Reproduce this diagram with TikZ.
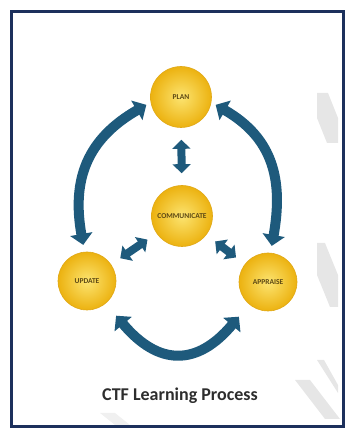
\documentclass[tikz,border=0pt]{standalone}
\usepackage{fontspec}
\setmainfont{Carlito}
\usetikzlibrary{arrows.meta}

\definecolor{cycleblue}{RGB}{30,90,124}
\definecolor{framenavy}{RGB}{28,48,92}
\definecolor{goldlight}{RGB}{252,228,112}
\definecolor{golddark}{RGB}{236,178,16}
\definecolor{goldedge}{RGB}{224,168,24}
\definecolor{labelbrown}{RGB}{92,72,20}
\definecolor{titlegray}{RGB}{45,45,45}
\definecolor{stripegray}{RGB}{230,230,230}

\begin{document}
\begin{tikzpicture}[x=1pt,y=1pt,
        stage/.style={circle,minimum size=61pt,inner sep=0pt,draw=goldedge,line width=0.6pt,
            inner color=goldlight,outer color=golddark,
            font=\fontsize{7.5}{9}\selectfont\bfseries,text=labelbrown},
        cyclearrow/.style={cycleblue,line width=10pt,
            {Triangle[length=11pt,width=22pt]}-{Triangle[length=11pt,width=22pt]}},
        hubarrow/.style={cycleblue,line width=8pt,
            {Triangle[length=9pt,width=18pt]}-{Triangle[length=9pt,width=18pt]}}]
    \useasboundingbox (0,0) rectangle (346,431);

    % pale slanted bands behind the frame's right side
    \fill[stripegray] (317,338) -- (328,338) -- (338,313) -- (338,288) -- (327,288) -- (317,313) -- cycle;
    \fill[stripegray] (317,188) -- (325,188) -- (338,156) -- (338,124) -- (330,124) -- (317,156) -- cycle;
    \fill[stripegray] (317,71) -- (324,71) -- (338,46) -- (338,38) -- cycle;
    \fill[stripegray] (295,51) -- (310,51) -- (340,12) -- (325,12) -- cycle;
    \fill[stripegray!60] (100,18) -- (115,18) -- (130,6) -- (115,6) -- cycle;

    % frame
    \draw[framenavy,line width=3pt] (11,4) rectangle (343,419);

    % the four stages
    \node[stage] (plan) at (181,334) {PLAN};
    \node[stage] (comm) at (182,215) {COMMUNICATE};
    \node[stage,minimum size=58pt] (update) at (87,150) {UPDATE};
    \node[stage,minimum size=58pt] (appraise) at (268,149) {APPRAISE};

    % outer cycle
    \draw[cyclearrow,shorten <=7pt,shorten >=5pt] (update.95) to[out=100,in=210,looseness=1.15] (plan.190);
    \draw[cyclearrow,shorten <=7pt,shorten >=5pt] (appraise.85) to[out=80,in=-30,looseness=1.15] (plan.350);
    \draw[cyclearrow,shorten <=16pt,shorten >=16pt] (update.-50) to[out=-50,in=-130,looseness=1.45] (appraise.-130);

    % links to the hub
    \draw[hubarrow,shorten <=12pt,shorten >=12pt] (plan) -- (comm);
    \draw[hubarrow,shorten <=11pt,shorten >=11pt] (comm) -- (update);
    \draw[hubarrow,shorten <=11pt,shorten >=11pt] (comm) -- (appraise);

    \node[font=\fontsize{18}{21}\selectfont\bfseries,text=titlegray] (title) at (180,35) {CTF Learning Process};
\end{tikzpicture}
\end{document}
